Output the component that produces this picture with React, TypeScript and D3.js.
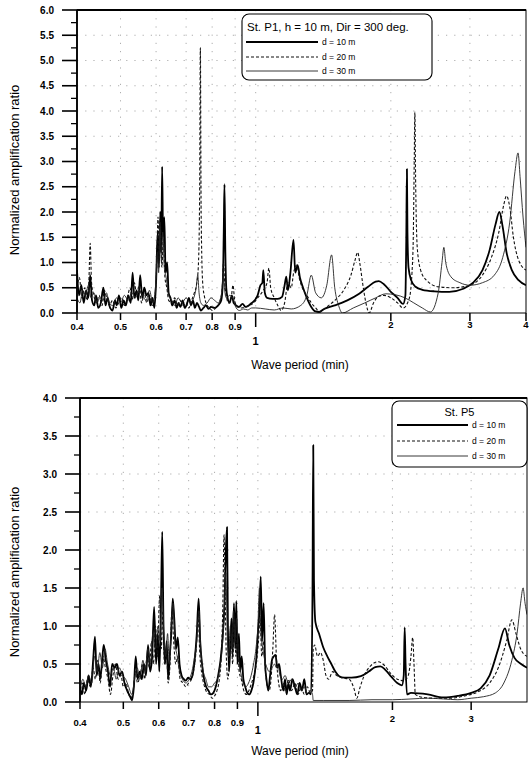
import React from 'react';
import * as d3 from 'd3';

type Pt = [number, number];

// ---- tick values ----
const periodTicksP1 = [0.4, 0.5, 0.6, 0.7, 0.8, 0.9, 1, 2, 3, 4];
const periodTicksP5 = [0.4, 0.5, 0.6, 0.7, 0.8, 0.9, 1, 2, 3];
const ratioMaxP1 = 6;
const ratioMaxP5 = 4;
const depthLabels = ['d = 10 m', 'd = 20 m', 'd = 30 m'];

// ---- St. P1 (period min, normalized amplification ratio) ----
const p1d10: Pt[] = [
  [0.4, 0.85], [0.404, 0.35], [0.409, 0.55], [0.414, 0.2], [0.419, 0.45], [0.424, 0.3], [0.428, 0.75],
  [0.432, 0.25], [0.437, 0.15], [0.441, 0.35], [0.446, 0.1], [0.452, 0.2], [0.458, 0.5], [0.463, 0.15],
  [0.468, 0.3], [0.474, 0.1], [0.48, 0.05], [0.486, 0.25], [0.49, 0.15], [0.496, 0.35], [0.502, 0.1],
  [0.508, 0.25], [0.514, 0.15], [0.52, 0.35], [0.527, 0.2], [0.532, 0.8], [0.537, 0.3], [0.543, 0.45],
  [0.548, 0.25], [0.553, 0.75], [0.559, 0.3], [0.565, 0.5], [0.571, 0.35], [0.577, 0.4], [0.583, 0.15],
  [0.589, 0.3], [0.595, 0.1], [0.6, 0.6], [0.605, 1.6], [0.609, 0.9], [0.613, 2.0], [0.616, 1.2],
  [0.619, 2.9], [0.622, 1.5], [0.626, 1.9], [0.63, 0.8], [0.635, 1.0], [0.64, 0.4], [0.646, 0.3],
  [0.652, 0.15], [0.66, 0.25], [0.667, 0.1], [0.673, 0.2], [0.68, 0.12], [0.688, 0.25], [0.695, 0.1],
  [0.703, 0.18], [0.71, 0.3], [0.718, 0.15], [0.725, 0.25], [0.732, 0.1], [0.74, 0.2], [0.748, 0.12],
  [0.755, 0.05], [0.765, 0.1], [0.775, 0.15], [0.785, 0.08], [0.795, 0.12], [0.81, 0.1], [0.825, 0.15],
  [0.838, 0.25], [0.845, 0.6], [0.849, 1.6], [0.852, 2.55], [0.856, 1.2], [0.86, 0.5], [0.866, 0.3],
  [0.875, 0.2], [0.885, 0.35], [0.893, 0.2], [0.905, 0.15], [0.918, 0.12], [0.935, 0.18], [0.95, 0.12],
  [0.965, 0.15], [0.98, 0.2], [0.995, 0.25], [1.01, 0.35], [1.025, 0.55], [1.035, 0.6], [1.04, 0.85],
  [1.048, 0.4], [1.06, 0.3], [1.09, 0.28], [1.12, 0.28], [1.145, 0.32], [1.16, 0.55], [1.17, 0.72],
  [1.18, 0.45], [1.195, 0.8], [1.214, 1.45], [1.225, 0.8], [1.24, 0.95], [1.255, 0.7], [1.275, 0.5],
  [1.3, 0.3], [1.33, 0.12], [1.36, 0.03], [1.385, 0.02], [1.42, 0.08], [1.5, 0.15], [1.6, 0.25],
  [1.7, 0.38], [1.78, 0.52], [1.85, 0.62], [1.88, 0.63], [1.93, 0.57], [2.0, 0.42], [2.07, 0.3],
  [2.13, 0.18], [2.155, 0.35], [2.165, 1.5], [2.172, 2.85], [2.178, 1.6], [2.19, 0.9], [2.22, 0.65],
  [2.27, 0.52], [2.35, 0.46], [2.5, 0.43], [2.7, 0.42], [2.9, 0.48], [3.05, 0.6], [3.2, 0.85],
  [3.32, 1.25], [3.42, 1.75], [3.49, 2.0], [3.55, 1.7], [3.62, 1.2], [3.72, 0.85], [3.85, 0.65], [4.0, 0.55],
];

const p1d20: Pt[] = [
  [0.4, 0.5], [0.405, 0.7], [0.41, 0.3], [0.416, 0.5], [0.421, 0.25], [0.425, 0.6], [0.428, 1.38],
  [0.431, 0.6], [0.436, 0.35], [0.442, 0.2], [0.448, 0.35], [0.455, 0.15], [0.46, 0.45], [0.466, 0.3],
  [0.472, 0.15], [0.48, 0.25], [0.488, 0.1], [0.495, 0.2], [0.503, 0.3], [0.51, 0.15], [0.518, 0.3],
  [0.525, 0.5], [0.531, 0.25], [0.537, 0.6], [0.543, 0.35], [0.55, 0.55], [0.557, 0.2], [0.565, 0.4],
  [0.572, 0.2], [0.58, 0.35], [0.588, 0.15], [0.596, 0.3], [0.602, 0.9], [0.606, 1.9], [0.61, 1.1],
  [0.614, 1.7], [0.618, 0.9], [0.623, 1.5], [0.628, 0.7], [0.634, 0.5], [0.64, 0.25], [0.65, 0.2],
  [0.66, 0.3], [0.67, 0.15], [0.68, 0.25], [0.69, 0.15], [0.7, 0.2], [0.71, 0.1], [0.72, 0.25],
  [0.73, 0.4], [0.738, 0.55], [0.745, 0.9], [0.75, 2.2], [0.753, 5.25], [0.756, 2.0], [0.762, 0.6],
  [0.77, 0.3], [0.78, 0.15], [0.79, 0.1], [0.8, 0.05], [0.815, 0.1], [0.83, 0.2], [0.842, 0.45],
  [0.848, 1.0], [0.853, 0.6], [0.86, 0.35], [0.87, 0.2], [0.882, 0.3], [0.89, 0.55], [0.898, 0.25],
  [0.91, 0.12], [0.93, 0.1], [0.95, 0.12], [0.97, 0.15], [0.99, 0.2], [1.01, 0.3], [1.04, 0.45],
  [1.06, 0.6], [1.07, 0.89], [1.08, 0.5], [1.1, 0.3], [1.12, 0.15], [1.14, 0.05], [1.16, 0.2],
  [1.18, 0.6], [1.2, 0.5], [1.215, 0.8], [1.235, 0.95], [1.25, 0.7], [1.27, 0.5], [1.3, 0.35],
  [1.33, 0.2], [1.36, 0.1], [1.39, 0.02], [1.43, 0.1], [1.5, 0.25], [1.57, 0.45], [1.63, 0.75],
  [1.665, 1.05], [1.687, 1.2], [1.705, 1.0], [1.73, 0.6], [1.76, 0.2], [1.79, 0.0], [1.83, 0.2],
  [1.88, 0.33], [1.93, 0.35], [2.0, 0.3], [2.07, 0.2], [2.13, 0.1], [2.2, 0.3], [2.24, 1.2],
  [2.255, 3.0], [2.262, 3.98], [2.272, 2.5], [2.29, 1.3], [2.33, 0.85], [2.4, 0.65], [2.55, 0.52],
  [2.75, 0.5], [3.0, 0.55], [3.2, 0.75], [3.35, 1.1], [3.48, 1.6], [3.57, 2.15], [3.62, 2.32],
  [3.68, 2.1], [3.75, 1.5], [3.85, 1.05], [4.0, 0.85],
];

const p1d30: Pt[] = [
  [0.4, 0.3], [0.406, 0.2], [0.412, 0.45], [0.418, 0.35], [0.424, 0.55], [0.43, 0.3], [0.436, 0.4],
  [0.443, 0.2], [0.45, 0.3], [0.457, 0.25], [0.465, 0.4], [0.472, 0.2], [0.48, 0.15], [0.49, 0.3],
  [0.5, 0.2], [0.51, 0.35], [0.52, 0.25], [0.53, 0.4], [0.54, 0.3], [0.55, 0.45], [0.56, 0.35],
  [0.57, 0.25], [0.58, 0.45], [0.59, 0.2], [0.598, 0.5], [0.604, 1.2], [0.608, 0.8], [0.612, 1.8],
  [0.617, 1.0], [0.621, 1.6], [0.626, 0.9], [0.632, 0.7], [0.64, 0.35], [0.65, 0.25], [0.66, 0.15],
  [0.672, 0.3], [0.685, 0.2], [0.7, 0.3], [0.715, 0.2], [0.728, 0.3], [0.737, 0.5], [0.743, 0.75],
  [0.748, 0.4], [0.755, 0.2], [0.765, 0.15], [0.78, 0.2], [0.795, 0.3], [0.81, 0.25], [0.825, 0.2],
  [0.84, 0.4], [0.847, 0.8], [0.852, 0.5], [0.86, 0.3], [0.875, 0.35], [0.89, 0.3], [0.905, 0.1],
  [0.92, 0.05], [0.94, 0.08], [0.96, 0.06], [0.98, 0.1], [1.0, 0.1], [1.05, 0.08], [1.1, 0.06],
  [1.15, 0.1], [1.2, 0.08], [1.26, 0.15], [1.3, 0.35], [1.33, 0.75], [1.36, 0.4], [1.4, 0.3],
  [1.44, 0.55], [1.476, 1.15], [1.5, 0.5], [1.53, 0.15], [1.56, 0.0], [1.65, 0.1], [1.75, 0.2],
  [1.85, 0.3], [1.95, 0.38], [2.05, 0.36], [2.15, 0.3], [2.25, 0.2], [2.35, 0.1], [2.45, 0.02],
  [2.55, 0.4], [2.6, 1.0], [2.625, 1.3], [2.65, 1.0], [2.72, 0.72], [2.85, 0.6], [3.0, 0.55],
  [3.2, 0.6], [3.4, 0.75], [3.55, 1.1], [3.68, 1.8], [3.78, 2.8], [3.84, 3.17], [3.88, 2.7],
  [3.94, 1.9], [4.0, 1.3],
];

// ---- St. P5 ----
const p5d10: Pt[] = [
  [0.4, 0.2], [0.404, 0.1], [0.408, 0.25], [0.413, 0.15], [0.418, 0.35], [0.423, 0.2], [0.428, 0.55],
  [0.432, 0.86], [0.436, 0.35], [0.44, 0.5], [0.444, 0.3], [0.449, 0.6], [0.452, 0.75], [0.457, 0.55],
  [0.462, 0.4], [0.467, 0.2], [0.472, 0.5], [0.478, 0.45], [0.484, 0.5], [0.49, 0.35], [0.497, 0.4],
  [0.503, 0.25], [0.51, 0.15], [0.517, 0.08], [0.523, 0.02], [0.528, 0.2], [0.533, 0.6], [0.538, 0.3],
  [0.544, 0.4], [0.55, 0.3], [0.556, 0.5], [0.562, 0.35], [0.568, 0.75], [0.574, 0.4], [0.58, 0.6],
  [0.586, 1.25], [0.592, 0.5], [0.597, 0.9], [0.602, 0.4], [0.607, 1.3], [0.611, 2.24], [0.615, 1.0],
  [0.62, 0.5], [0.625, 0.8], [0.63, 0.3], [0.635, 0.6], [0.64, 0.9], [0.645, 1.36], [0.65, 1.1],
  [0.656, 0.7], [0.662, 0.85], [0.668, 0.5], [0.675, 0.35], [0.683, 0.3], [0.69, 0.28], [0.698, 0.32],
  [0.706, 0.3], [0.714, 0.35], [0.722, 0.55], [0.73, 0.9], [0.737, 1.36], [0.743, 0.8], [0.75, 0.5],
  [0.758, 0.3], [0.766, 0.2], [0.775, 0.15], [0.785, 0.1], [0.795, 0.12], [0.805, 0.2], [0.815, 0.35],
  [0.825, 0.55], [0.835, 0.9], [0.842, 1.3], [0.848, 2.0], [0.853, 2.3], [0.857, 1.0], [0.862, 0.4],
  [0.868, 0.8], [0.873, 1.1], [0.878, 0.6], [0.884, 1.3], [0.89, 0.7], [0.895, 1.33], [0.9, 0.5],
  [0.907, 0.9], [0.913, 0.4], [0.92, 0.6], [0.928, 0.3], [0.937, 0.2], [0.947, 0.12], [0.957, 0.1],
  [0.967, 0.15], [0.977, 0.25], [0.985, 0.4], [0.993, 0.6], [1.0, 0.9], [1.008, 1.2], [1.015, 1.65],
  [1.022, 0.8], [1.03, 1.3], [1.038, 0.5], [1.045, 0.3], [1.055, 0.15], [1.065, 0.35], [1.075, 0.55],
  [1.085, 0.6], [1.095, 0.62], [1.105, 0.45], [1.115, 0.5], [1.125, 0.35], [1.14, 0.15], [1.15, 0.3],
  [1.16, 0.1], [1.17, 0.25], [1.18, 0.15], [1.195, 0.3], [1.21, 0.2], [1.225, 0.1], [1.24, 0.25],
  [1.255, 0.15], [1.27, 0.3], [1.285, 0.1], [1.3, 0.12], [1.315, 0.1], [1.325, 1.5], [1.33, 3.38],
  [1.335, 1.6], [1.345, 1.05], [1.37, 0.9], [1.4, 0.72], [1.43, 0.6], [1.46, 0.5], [1.49, 0.4],
  [1.52, 0.34], [1.56, 0.32], [1.62, 0.32], [1.7, 0.34], [1.77, 0.4], [1.83, 0.46], [1.88, 0.47],
  [1.93, 0.42], [1.99, 0.33], [2.05, 0.25], [2.1, 0.22], [2.12, 0.35], [2.13, 0.98], [2.14, 0.5],
  [2.155, 0.1], [2.2, 0.12], [2.4, 0.1], [2.6, 0.06], [2.8, 0.08], [3.0, 0.12], [3.15, 0.18],
  [3.3, 0.35], [3.45, 0.7], [3.57, 0.97], [3.65, 0.75], [3.75, 0.58], [3.88, 0.5], [4.0, 0.45],
];

const p5d20: Pt[] = [
  [0.4, 0.1], [0.405, 0.25], [0.41, 0.1], [0.416, 0.3], [0.422, 0.2], [0.428, 0.45], [0.433, 0.3],
  [0.438, 0.55], [0.444, 0.25], [0.45, 0.6], [0.456, 0.45], [0.462, 0.3], [0.468, 0.1], [0.474, 0.35],
  [0.48, 0.5], [0.487, 0.3], [0.494, 0.35], [0.5, 0.2], [0.507, 0.25], [0.514, 0.1], [0.52, 0.05],
  [0.526, 0.15], [0.532, 0.4], [0.538, 0.25], [0.545, 0.35], [0.552, 0.5], [0.558, 0.3], [0.565, 0.6],
  [0.572, 0.45], [0.578, 0.8], [0.584, 0.5], [0.59, 1.0], [0.596, 0.6], [0.603, 1.4], [0.608, 0.7],
  [0.613, 1.2], [0.618, 0.5], [0.624, 0.7], [0.63, 0.25], [0.636, 0.5], [0.642, 1.2], [0.648, 0.8],
  [0.655, 0.5], [0.662, 0.6], [0.67, 0.3], [0.68, 0.25], [0.69, 0.2], [0.7, 0.25], [0.71, 0.3],
  [0.72, 0.45], [0.728, 0.7], [0.735, 1.1], [0.742, 0.6], [0.75, 0.35], [0.76, 0.2], [0.77, 0.12],
  [0.78, 0.1], [0.79, 0.05], [0.8, 0.08], [0.81, 0.15], [0.82, 0.3], [0.828, 0.6], [0.835, 1.3],
  [0.84, 2.2], [0.845, 1.4], [0.85, 0.6], [0.857, 0.3], [0.865, 0.6], [0.872, 0.9], [0.878, 0.5],
  [0.886, 1.1], [0.893, 0.6], [0.9, 0.9], [0.908, 0.4], [0.918, 0.3], [0.93, 0.15], [0.942, 0.1],
  [0.955, 0.15], [0.968, 0.25], [0.98, 0.35], [0.992, 0.5], [1.003, 0.8], [1.012, 1.1], [1.02, 0.6],
  [1.03, 0.8], [1.04, 0.4], [1.05, 0.2], [1.06, 0.15], [1.07, 0.3], [1.08, 0.7], [1.09, 1.15],
  [1.1, 0.6], [1.11, 0.3], [1.125, 0.15], [1.14, 0.25], [1.155, 0.12], [1.17, 0.3], [1.19, 0.15],
  [1.21, 0.25], [1.23, 0.1], [1.25, 0.2], [1.27, 0.1], [1.29, 0.2], [1.31, 0.12], [1.325, 0.15],
  [1.33, 0.7], [1.34, 0.75], [1.36, 0.6], [1.38, 0.65], [1.4, 0.55], [1.42, 0.35], [1.44, 0.3],
  [1.47, 0.4], [1.5, 0.35], [1.54, 0.32], [1.6, 0.3], [1.64, 0.18], [1.665, 0.05], [1.69, 0.18],
  [1.73, 0.35], [1.79, 0.48], [1.86, 0.53], [1.92, 0.48], [1.98, 0.38], [2.05, 0.3], [2.12, 0.28],
  [2.17, 0.35], [2.2, 0.6], [2.22, 0.85], [2.235, 0.5], [2.25, 0.1], [2.35, 0.06], [2.5, 0.05],
  [2.7, 0.05], [2.9, 0.08], [3.1, 0.13], [3.3, 0.25], [3.45, 0.45], [3.6, 0.8], [3.7, 1.08],
  [3.78, 0.9], [3.87, 0.7], [4.0, 0.6],
];

const p5d30: Pt[] = [
  [0.4, 0.15], [0.406, 0.3], [0.412, 0.2], [0.418, 0.35], [0.425, 0.25], [0.431, 0.6], [0.437, 0.4],
  [0.443, 0.65], [0.449, 0.45], [0.455, 0.7], [0.461, 0.5], [0.468, 0.35], [0.475, 0.45], [0.482, 0.3],
  [0.49, 0.45], [0.498, 0.35], [0.506, 0.3], [0.514, 0.2], [0.522, 0.1], [0.53, 0.3], [0.537, 0.45],
  [0.545, 0.3], [0.553, 0.55], [0.56, 0.4], [0.567, 0.7], [0.575, 0.5], [0.582, 0.9], [0.59, 0.7],
  [0.598, 1.0], [0.605, 0.8], [0.61, 1.5], [0.616, 0.9], [0.622, 0.6], [0.628, 0.9], [0.634, 0.5],
  [0.64, 1.0], [0.646, 1.3], [0.652, 0.8], [0.66, 0.6], [0.668, 0.4], [0.678, 0.3], [0.69, 0.25],
  [0.702, 0.3], [0.712, 0.4], [0.722, 0.6], [0.73, 0.8], [0.738, 1.2], [0.745, 0.7], [0.755, 0.4],
  [0.765, 0.3], [0.775, 0.2], [0.788, 0.2], [0.8, 0.25], [0.812, 0.3], [0.822, 0.45], [0.832, 0.7],
  [0.84, 1.1], [0.848, 1.7], [0.854, 0.9], [0.86, 0.6], [0.868, 1.0], [0.875, 0.7], [0.882, 1.2],
  [0.888, 0.8], [0.896, 1.1], [0.905, 0.6], [0.915, 0.4], [0.927, 0.25], [0.94, 0.2], [0.953, 0.25],
  [0.966, 0.35], [0.978, 0.5], [0.99, 0.7], [1.0, 1.0], [1.008, 1.5], [1.016, 0.9], [1.026, 0.7],
  [1.036, 0.55], [1.048, 0.45], [1.06, 0.4], [1.075, 0.45], [1.09, 0.5], [1.1, 0.45], [1.11, 0.48],
  [1.12, 0.35], [1.135, 0.3], [1.15, 0.35], [1.17, 0.25], [1.19, 0.3], [1.21, 0.18], [1.23, 0.25],
  [1.25, 0.15], [1.27, 0.2], [1.29, 0.1], [1.31, 0.15], [1.325, 0.1], [1.33, 0.02], [1.4, 0.02],
  [1.6, 0.02], [1.8, 0.03], [2.0, 0.03], [2.2, 0.04], [2.4, 0.05], [2.6, 0.04], [2.8, 0.03],
  [3.0, 0.05], [3.2, 0.07], [3.4, 0.12], [3.55, 0.25], [3.7, 0.55], [3.8, 0.9], [3.87, 1.3],
  [3.92, 1.5], [3.96, 1.3], [4.0, 1.15],
];

const FONT = '"Liberation Sans", Arial, Helvetica, sans-serif';

const lineStyles = [
  { width: 1.8, dash: undefined as string | undefined, color: '#000' },
  { width: 1.1, dash: '3 2', color: '#111' },
  { width: 0.9, dash: undefined as string | undefined, color: '#222' },
];

type Box = { left: number; right: number; top: number; bottom: number };

function Panel({ id, box, yMax, series, xTicks, legend }: {
  id: string;
  box: Box;
  yMax: number;
  series: Pt[][];
  xTicks: number[];
  legend: { title: string; x: number; y: number; w: number; h: number; lineX0: number; lineX1: number; rows: number[]; centerTitle?: boolean; titleY: number };
}) {
  const x = d3.scaleLog().domain([0.4, 4]).range([box.left, box.right]);
  const y = d3.scaleLinear().domain([0, yMax]).range([box.bottom, box.top]);
  const line = d3.line<Pt>().x(d => x(d[0])).y(d => y(d[1])).curve(d3.curveMonotoneX);
  const majors = d3.range(0, yMax + 0.001, 0.5);
  const minors = d3.range(0.25, yMax, 0.5);
  const fmt = d3.format('.1f');
  const small = id === 'p1';
  const bigTick = (t: number) => t >= 1;

  return (
    <g>
      <defs>
        <clipPath id={`clip-${id}`}>
          <rect x={box.left} y={box.top} width={box.right - box.left} height={box.bottom - box.top} />
        </clipPath>
      </defs>
      {/* dotted grid, like the scan texture of the original */}
      <g stroke="#666" strokeWidth={0.8} strokeDasharray="1.2 7" opacity={0.65}>
        {majors.slice(1, -1).map(v => (
          <line key={`gy${v}`} x1={box.left} x2={box.right} y1={y(v)} y2={y(v)} />
        ))}
        {xTicks.slice(1).filter(t => t < 4).map(t => (
          <line key={`gx${t}`} x1={x(t)} x2={x(t)} y1={box.top} y2={box.bottom} />
        ))}
      </g>
      <g clipPath={`url(#clip-${id})`} fill="none" strokeLinejoin="round">
        {series.map((s, i) => (
          <path key={i} d={line(s) || ''} stroke={lineStyles[i].color}
            strokeWidth={lineStyles[i].width} strokeDasharray={lineStyles[i].dash} />
        ))}
      </g>
      {/* frame */}
      <rect x={box.left} y={box.top} width={box.right - box.left} height={box.bottom - box.top}
        fill="none" stroke="#000" strokeWidth={1} />
      <line x1={box.left} x2={box.right} y1={box.top} y2={box.top} stroke="#000" strokeWidth={1.8} />
      <line x1={box.left} x2={box.left} y1={box.top} y2={box.bottom} stroke="#000" strokeWidth={1.8} />
      {/* y axis */}
      {majors.map(v => (
        <g key={`yt${v}`}>
          <line x1={box.left - 15} x2={box.left} y1={y(v)} y2={y(v)} stroke="#000" strokeWidth={1.6} />
          <text x={box.left - 23} y={y(v) + 3.5} textAnchor="end" fontSize={10} fontWeight={600} fontFamily={FONT}>{fmt(v)}</text>
        </g>
      ))}
      {minors.map(v => (
        <line key={`ym${v}`} x1={box.left - 6} x2={box.left} y1={y(v)} y2={y(v)} stroke="#000" strokeWidth={1.3} />
      ))}
      {/* x axis */}
      {xTicks.map(t => (
        <g key={`xt${t}`}>
          <line x1={x(t)} x2={x(t)} y1={box.bottom} y2={box.bottom + (t === 1 ? 14 : bigTick(t) ? 8 : 7)}
            stroke="#000" strokeWidth={1.5} />
          <text x={x(t)} y={box.bottom + (t === 1 ? 32 : bigTick(t) ? (small ? 15 : 20) : (small ? 17 : 24))}
            textAnchor="middle" fontSize={t === 1 ? 11 : 9.5} fontWeight={600} fontFamily={FONT}>
            {t >= 1 ? String(t) : t.toFixed(1)}
          </text>
        </g>
      ))}
      {/* legend */}
      <rect x={legend.x} y={legend.y} width={legend.w} height={legend.h} rx={7} fill="#fff" stroke="#000" strokeWidth={1.1} />
      <text x={legend.centerTitle ? legend.x + legend.w / 2 : legend.x + 5} y={legend.titleY}
        textAnchor={legend.centerTitle ? 'middle' : 'start'} fontSize={small ? 11.5 : 11} fontFamily={FONT}>{legend.title}</text>
      {legend.rows.map((ry, i) => (
        <g key={`lg${i}`}>
          <line x1={legend.lineX0} x2={legend.lineX1} y1={ry} y2={ry} stroke={lineStyles[i].color}
            strokeWidth={lineStyles[i].width} strokeDasharray={lineStyles[i].dash} />
          <text x={legend.lineX1 + 4} y={ry + 3} fontSize={8.5} fontFamily={FONT}>{depthLabels[i]}</text>
        </g>
      ))}
    </g>
  );
}

export default function App() {
  const boxP1: Box = { left: 77, right: 526, top: 10, bottom: 313 };
  const boxP5: Box = { left: 80, right: 527, top: 398, bottom: 702 };
  return (
    <div style={{ position: 'absolute', left: 0, top: 0, background: '#fff' }}>
      <svg width={529} height={762} style={{ display: 'block' }}>
        <rect width={529} height={762} fill="#fff" />
        <Panel id="p1" box={boxP1} yMax={ratioMaxP1} series={[p1d10, p1d20, p1d30]} xTicks={periodTicksP1}
          legend={{ title: 'St. P1, h = 10 m, Dir = 300 deg.', x: 242, y: 14, w: 190, h: 66, lineX0: 246, lineX1: 318, rows: [42, 57, 71], titleY: 31 }} />
        <Panel id="p5" box={boxP5} yMax={ratioMaxP5} series={[p5d10, p5d20, p5d30]} xTicks={periodTicksP5}
          legend={{ title: 'St. P5', x: 392, y: 401, w: 135, h: 66, lineX0: 397, lineX1: 468, rows: [425, 441, 456], centerTitle: true, titleY: 416 }} />
        <text transform="translate(19,170) rotate(-90)" textAnchor="middle" fontSize={13} fontFamily={FONT}>Normalized amplification ratio</text>
        <text transform="translate(19,572) rotate(-90)" textAnchor="middle" fontSize={13} fontFamily={FONT}>Normalized amplification ratio</text>
        <text x={300} y={369} textAnchor="middle" fontSize={12} fontFamily={FONT}>Wave period (min)</text>
        <text x={300} y={755} textAnchor="middle" fontSize={12} fontFamily={FONT}>Wave period (min)</text>
      </svg>
    </div>
  );
}
